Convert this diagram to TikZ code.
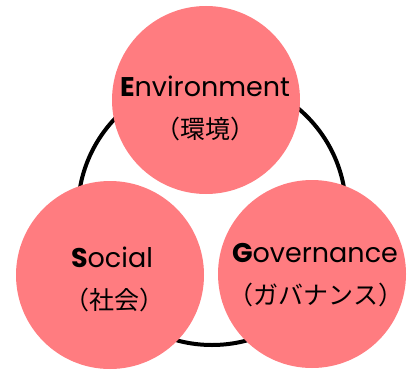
\documentclass[tikz,border=0pt]{standalone}
\usepackage{fontspec}
\setmainfont{Poppins}
\newfontfamily\jp{Noto Sans CJK JP}
\definecolor{esgpink}{RGB}{255,124,128}
\begin{document}
\begin{tikzpicture}[x=1pt,y=-1pt,
  ring/.style={draw=black,line width=4pt},
  esg/.style={circle,fill=esgpink,minimum size=188pt,inner sep=0pt},
  en/.style={font=\fontsize{27}{30}\selectfont,inner sep=0pt,anchor=center},
  ja/.style={font=\jp\fontsize{25}{28}\selectfont,inner sep=0pt,anchor=center}]
\useasboundingbox (0,0) rectangle (409,369);
\node[circle,ring,minimum size=268pt,inner sep=0pt] (ring) at (212,211) {};
\node[esg] (E) at (206,100) {};
\node[esg] (S) at (110,275) {};
\node[esg] (G) at (312,274) {};
\node[en] (Et) at (205,86) {\textbf{E}nvironment};
\node[ja] (Ej) at (205,129) {（環境）};
\node[en] (St) at (112,257) {\textbf{S}ocial};
\node[ja] (Sj) at (114,300) {（社会）};
\node[en] (Gt) at (315,253) {\textbf{G}overnance};
\node[ja] (Gj) at (316,295) {（ガバナンス）};
\end{tikzpicture}
\end{document}
